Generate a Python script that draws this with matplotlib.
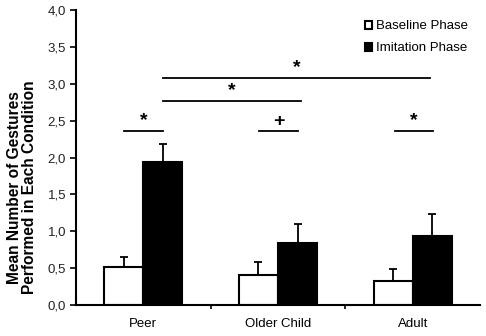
import matplotlib
matplotlib.use("Agg")
import matplotlib.pyplot as plt
import numpy as np
from matplotlib.ticker import FuncFormatter

plt.rcParams['font.family'] = ['Liberation Sans', 'DejaVu Sans']

conditions = ['Peer', 'Older Child', 'Adult']
baseline = [0.51, 0.41, 0.33]
baseline_err = [0.14, 0.18, 0.16]
imitation = [1.94, 0.84, 0.93]
imitation_err = [0.24, 0.26, 0.30]

# significance brackets: (x start, x end, height, symbol)
sig_x0 = [-0.14, 0.86, 1.87, 0.15, 0.15]
sig_x1 = [0.15, 1.15, 2.15, 1.17, 2.13]
sig_y = [2.36, 2.36, 2.36, 2.77, 3.08]
sig_sym = ['*', '+', '*', '*', '*']

fig = plt.figure(figsize=(4.86, 3.36), dpi=100)
ax = fig.add_axes([0.156, 0.092, 0.832, 0.878])

x = np.arange(len(conditions))
w = 0.29
ax.bar(x - w / 2, baseline, w, color='white', edgecolor='black', linewidth=1.5,
       label='Baseline Phase', zorder=2)
ax.bar(x + w / 2, imitation, w, color='black', edgecolor='black', linewidth=1.5,
       label='Imitation Phase', zorder=2)
ax.errorbar(x - w / 2, baseline, yerr=[np.zeros(3), baseline_err], fmt='none',
            ecolor='black', elinewidth=1.3, capsize=3, capthick=1.3, zorder=1)
ax.errorbar(x + w / 2, imitation, yerr=[np.zeros(3), imitation_err], fmt='none',
            ecolor='black', elinewidth=1.3, capsize=3, capthick=1.3, zorder=1)

for x0, x1, y, s in zip(sig_x0, sig_x1, sig_y, sig_sym):
    ax.plot([x0, x1], [y, y], color='black', linewidth=1.3, clip_on=False)
    ax.text((x0 + x1) / 2, y + 0.02, s, ha='center', va='bottom',
            fontsize=14, fontweight='bold')

ax.set_xlim(-0.5, 2.5)
ax.set_ylim(0, 4.0)
ax.set_yticks(np.arange(0, 4.01, 0.5))
ax.yaxis.set_major_formatter(FuncFormatter(lambda v, p: f'{v:.1f}'.replace('.', ',')))
ax.set_xticks(x)
ax.set_xticklabels(conditions)
ax.set_xticks([0.5, 1.5], minor=True)
ax.tick_params(axis='x', which='major', length=0, pad=9, labelsize=9.5)
ax.tick_params(axis='x', which='minor', length=3, width=1.2, direction='out')
ax.tick_params(axis='y', length=4, width=1.2, labelsize=9.5, pad=3, labelcolor='#222222')

ax.spines['top'].set_visible(False)
ax.spines['right'].set_visible(False)
ax.spines['left'].set_linewidth(1.5)
ax.spines['bottom'].set_linewidth(1.5)

ax.set_ylabel('Mean Number of Gestures\nPerformed in Each Condition',
              fontsize=11.2, fontweight='bold', linespacing=1.05)
ax.yaxis.set_label_coords(-0.095, 0.40)

ax.legend(loc='upper right', bbox_to_anchor=(1.0, 1.005), frameon=False,
          fontsize=9.5, handlelength=0.55, handleheight=0.55, handletextpad=0.3,
          labelspacing=0.75)

fig.savefig('out.png', dpi=100)
